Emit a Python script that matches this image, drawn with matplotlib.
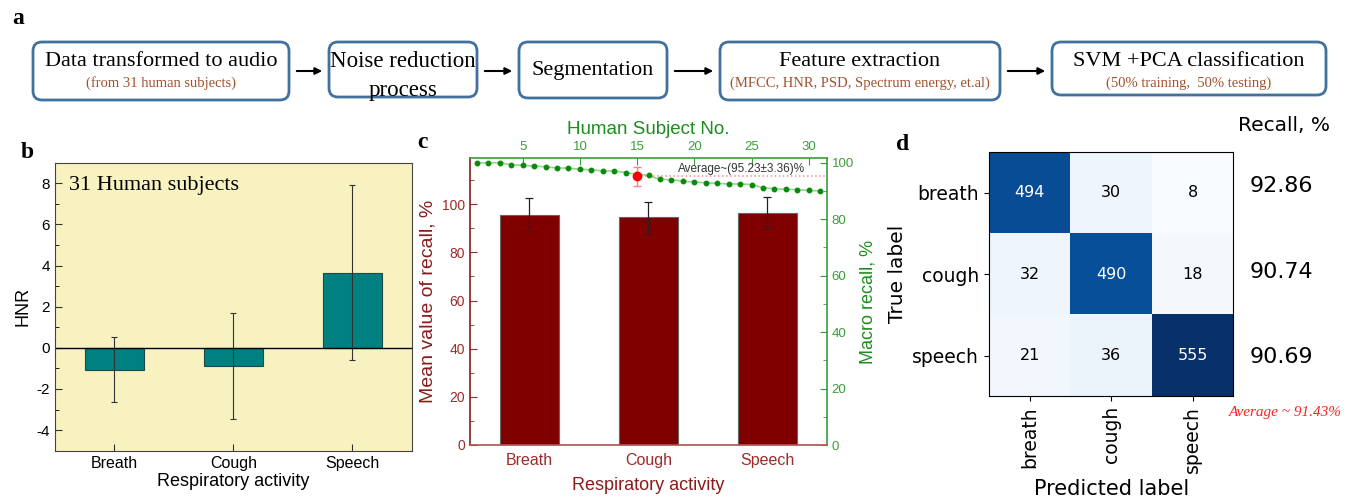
import matplotlib.pyplot as plt
from matplotlib.patches import FancyBboxPatch
from matplotlib.ticker import MultipleLocator
import numpy as np

plt.rcParams['axes.unicode_minus'] = False

# ---- data ----
activities = ['Breath', 'Cough', 'Speech']
hnr_mean = [-1.06, -0.87, 3.66]
hnr_err = [1.59, 2.58, 4.26]

recall_mean = [95.7, 94.6, 96.5]
recall_err = [6.8, 6.4, 6.3]

subject_no = list(range(1, 32))
macro_recall = [100.0, 100.0, 100.0, 99.3, 99.1, 98.8, 98.6, 98.2, 98.1, 97.7,
                97.5, 97.1, 97.1, 96.5, 96.0, 95.5, 94.1, 94.0, 93.5, 93.2,
                92.9, 92.7, 92.5, 92.5, 92.3, 91.2, 90.8, 90.6, 90.5, 90.2, 90.0]
avg_recall = 95.23
avg_std = 3.36
avg_subject = 15

cm_labels = ['breath', 'cough', 'speech']
cm = np.array([[494, 30, 8],
               [32, 490, 18],
               [21, 36, 555]])
class_recall = [92.86, 90.74, 90.69]
avg_class_recall = 91.43

# pipeline steps: (title, subtitle)
steps = [
    ('Data transformed to audio', '(from 31 human subjects)'),
    ('Noise reduction\nprocess', None),
    ('Segmentation', None),
    ('Feature extraction', '(MFCC, HNR, PSD, Spectrum energy, et.al)'),
    ('SVM +PCA classification', '(50% training,  50% testing)'),
]

SERIF = 'Liberation Serif'
SANS = 'Liberation Sans'
DARKRED = '#8B1A1A'
TICKRED = '#9E2A2A'
GREEN = '#1E8C1E'
TICKGREEN = '#3A9E3A'

W, H = 1354, 499
fig = plt.figure(figsize=(W / 100, H / 100), dpi=100)

# ---- a: processing pipeline (pixel coordinates) ----
ax_a = fig.add_axes([0, 0, 1, 1])
ax_a.set_xlim(0, W)
ax_a.set_ylim(H, 0)
ax_a.axis('off')

box_x = [(33, 289), (329, 477), (519, 667), (720, 1000), (1052, 1326)]
box_y = [(42, 100), (42, 97), (42, 98), (42, 100), (42, 95)]
for (x0, x1), (y0, y1), (title, sub) in zip(box_x, box_y, steps):
    ax_a.add_patch(FancyBboxPatch((x0, y0), x1 - x0, y1 - y0,
                                  boxstyle='round,pad=0,rounding_size=9',
                                  fc='white', ec='#41719C', lw=2))
    cx = (x0 + x1) / 2
    if sub:
        ax_a.text(cx, 61, title, ha='center', va='center', family=SERIF, fontsize=16)
        ax_a.text(cx, 83, sub, ha='center', va='center', family=SERIF,
                  fontsize=10.5, color='#A0522D')
    elif '\n' in title:
        l1, l2 = title.split('\n')
        ax_a.text(cx, 61, l1, ha='center', va='center', family=SERIF, fontsize=16.5)
        ax_a.text(cx, 90, l2, ha='center', va='center', family=SERIF, fontsize=16.5)
    else:
        ax_a.text(cx, 70, title, ha='center', va='center', family=SERIF, fontsize=16)

for (_, a1), (b0, _) in zip(box_x[:-1], box_x[1:]):
    ax_a.annotate('', xy=(b0 - 4, 71), xytext=(a1 + 5, 71),
                  arrowprops=dict(arrowstyle='-|>', color='black', lw=1.5,
                                  mutation_scale=10))

ax_a.text(18, 18, 'a', family=SERIF, fontsize=17, fontweight='bold', va='center', ha='center')
ax_a.text(27, 152, 'b', family=SERIF, fontsize=17, fontweight='bold', va='center', ha='center')
ax_a.text(422, 143, 'c', family=SERIF, fontsize=17, fontweight='bold', va='center', ha='center')
ax_a.text(903, 145, 'd', family=SERIF, fontsize=17, fontweight='bold', va='center', ha='center')

# ---- b: HNR per activity ----
ax_b = fig.add_axes([55 / W, 1 - 450.7 / H, 356.7 / W, 288 / H])
ax_b.set_facecolor('#F7F2C0')
xb = np.arange(len(activities))
ax_b.bar(xb, hnr_mean, width=0.5, color='#008080', edgecolor='#1a4a4a', lw=0.8)
ax_b.errorbar(xb, hnr_mean, yerr=hnr_err, fmt='none', ecolor='#333333',
              elinewidth=0.8, capsize=2.5, capthick=0.8)
ax_b.axhline(0, color='black', lw=1)
ax_b.set_xlim(-0.5, 2.5)
ax_b.set_ylim(-5, 9)
ax_b.set_yticks([-4, -2, 0, 2, 4, 6, 8])
ax_b.yaxis.set_minor_locator(MultipleLocator(1))
ax_b.set_xticks(xb)
ax_b.set_xticklabels(activities, family=SANS, fontsize=11.5)
for t in ax_b.get_yticklabels():
    t.set_family(SANS)
    t.set_fontsize(11)
ax_b.tick_params(direction='in', length=5, color='#333333')
ax_b.tick_params(which='minor', direction='in', length=3)
ax_b.set_ylabel('HNR', family=SANS, fontsize=13, labelpad=4)
ax_b.set_xlabel('Respiratory activity', family=SANS, fontsize=13, labelpad=2)
for s in ax_b.spines.values():
    s.set_color('#444444')
ax_b.text(0.04, 0.92, '31 Human subjects', transform=ax_b.transAxes,
          family=SERIF, fontsize=16, va='center')

# ---- c: mean recall per activity and macro recall per subject ----
pos_c = [470 / W, 1 - 445 / H, 356.7 / W, 287 / H]
ax_c = fig.add_axes(pos_c)
xc = np.arange(len(activities))
ax_c.bar(xc, recall_mean, width=0.5, color='#800000', edgecolor='#666666', lw=0.8)
ax_c.errorbar(xc, recall_mean, yerr=recall_err, fmt='none', ecolor='#222222',
              elinewidth=0.9, capsize=3, capthick=0.9)
ax_c.set_xlim(-0.5, 2.5)
ax_c.set_ylim(0, 119.2)
ax_c.set_yticks([0, 20, 40, 60, 80, 100])
ax_c.yaxis.set_minor_locator(MultipleLocator(10))
ax_c.set_xticks(xc)
ax_c.set_xticklabels(activities, family=SANS, fontsize=11.5, color=TICKRED)
for t in ax_c.get_yticklabels():
    t.set_family(SANS)
    t.set_fontsize(10)
    t.set_color(TICKRED)
ax_c.tick_params(axis='y', direction='in', length=5, color=TICKRED)
ax_c.tick_params(axis='y', which='minor', direction='in', length=3, color=TICKRED)
ax_c.tick_params(axis='x', length=0, pad=6)
ax_c.set_ylabel('Mean value of recall, %', family=SANS, fontsize=14, color=DARKRED, labelpad=4)
ax_c.set_xlabel('Respiratory activity', family=SANS, fontsize=13, color=DARKRED, labelpad=6)
ax_c.spines['left'].set_color(DARKRED)
ax_c.spines['bottom'].set_color('#B05050')
ax_c.spines['top'].set_color(TICKGREEN)
ax_c.spines['right'].set_color(TICKGREEN)
for s in ax_c.spines.values():
    s.set_linewidth(1.2)

ax_l = fig.add_axes(pos_c, frameon=False)
ax_l.patch.set_visible(False)
ax_l.plot(subject_no, macro_recall, '-', color='#8ED88E', lw=1.2, zorder=2)
ax_l.plot(subject_no, macro_recall, 'o', color='#0A8A0A', ms=3.2, zorder=3)
ax_l.set_xlim(0.39, 31.57)
ax_l.set_ylim(0, 101.7)
ax_l.hlines(avg_recall, avg_subject, ax_l.get_xlim()[1], colors='#FF8C8C',
            linestyles=':', lw=1.1, zorder=2)
ax_l.errorbar([avg_subject], [avg_recall], yerr=[avg_std], fmt='o', color='red',
              ms=6, ecolor='#FF8080', elinewidth=1, capsize=3, capthick=1, zorder=4)
ax_l.text(24.1, 97.8, f'Average~({avg_recall:.2f}\u00b1{avg_std:.2f})%', ha='center',
          va='center', family=SANS, fontsize=8.5, color='#333333')
ax_l.xaxis.tick_top()
ax_l.xaxis.set_label_position('top')
ax_l.yaxis.tick_right()
ax_l.yaxis.set_label_position('right')
ax_l.set_xticks([5, 10, 15, 20, 25, 30])
ax_l.set_yticks([0, 20, 40, 60, 80, 100])
ax_l.yaxis.set_minor_locator(MultipleLocator(10))
ax_l.tick_params(direction='in', length=5, color=TICKGREEN, labelcolor=TICKGREEN,
                 labelsize=9.5)
ax_l.tick_params(which='minor', direction='in', length=3, color=TICKGREEN)
for t in ax_l.get_xticklabels() + ax_l.get_yticklabels():
    t.set_family(SANS)
ax_l.set_xlabel('Human Subject No.', family=SANS, fontsize=13.5, color=GREEN, labelpad=5)
ax_l.set_ylabel('Macro recall, %', family=SANS, fontsize=13, color=GREEN, labelpad=4)

# ---- d: confusion matrix ----
ax_d = fig.add_axes([989 / W, 1 - 396.7 / H, 244.3 / W, 245 / H])
ax_d.imshow(cm, cmap='Blues', interpolation='nearest')
thresh = (cm.max() + cm.min()) / 2
for i in range(3):
    for j in range(3):
        ax_d.text(j, i, str(cm[i, j]), ha='center', va='center', fontsize=11.5,
                  color='white' if cm[i, j] > thresh else 'black')
ax_d.set_xticks(range(3))
ax_d.set_yticks(range(3))
ax_d.set_xticklabels(cm_labels, rotation=90, fontsize=13.5)
ax_d.set_yticklabels(cm_labels, fontsize=13.5)
ax_d.set_xlabel('Predicted label', fontsize=15)
ax_d.set_ylabel('True label', fontsize=14.5)
for i, r in enumerate(class_recall):
    ax_d.text(2.7, i * 1.05 - 0.08, f'{r:.2f}', ha='left', va='center', fontsize=16,
              clip_on=False)
ax_d.text(2.56, -0.83, 'Recall, %', ha='left', va='center', fontsize=14.5, clip_on=False)
ax_d.text(3.14, 2.7, f'Average ~ {avg_class_recall:.2f}%', ha='center', va='center',
          family=SERIF, style='italic', fontsize=11, color='#FF2020', clip_on=False)

fig.savefig('out.png', dpi=100)
